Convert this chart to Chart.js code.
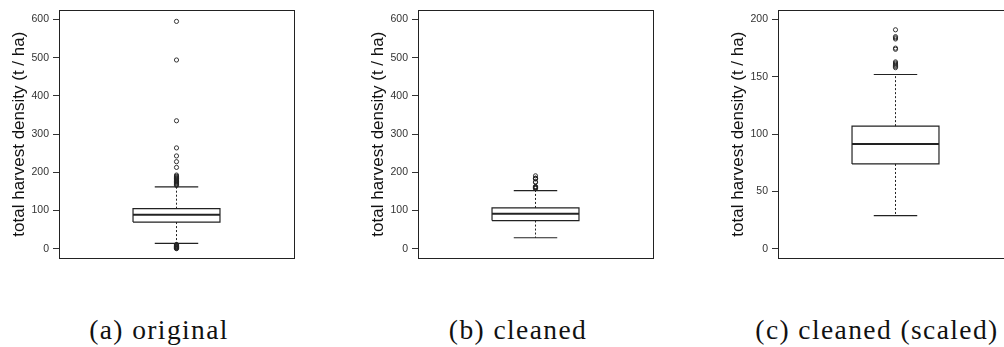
<!DOCTYPE html>
<html>
<head>
<meta charset="utf-8">
<script src="https://cdn.jsdelivr.net/npm/chart.js@4.4.0/dist/chart.umd.min.js"></script>
<style>
  html, body { margin: 0; padding: 0; background: #fff; }
  body { width: 1004px; height: 347px; overflow: hidden; position: relative; }
  .panel { position: absolute; top: 0; width: 300px; height: 280px; }
  .cap { position: absolute; top: 316px; font-family: "Liberation Serif", serif; font-size: 27.5px;
         line-height: 27px; letter-spacing: 1.4px; white-space: nowrap; color: #111; transform: translateX(-50%); }
</style>
</head>
<body>
<div class="panel" style="left:0px"><canvas id="c0" width="300" height="280"></canvas></div>
<div class="panel" style="left:359px"><canvas id="c1" width="300" height="280"></canvas></div>
<div class="panel" style="left:719px"><canvas id="c2" width="300" height="280"></canvas></div>
<div class="cap" id="cap0" style="left:159px"></div>
<div class="cap" id="cap1" style="left:518px"></div>
<div class="cap" id="cap2" style="left:877px"></div>
<script>
// ---- data ----
const captions = ['(a) original', '(b) cleaned', '(c) cleaned (scaled)'];
const yTitle = 'total harvest density (t / ha)';
// [lower whisker, Q1, median, Q3, upper whisker]
const originalStats = [14, 70, 89, 105, 162];
const originalOutliers = [595, 494, 335, 264, 243, 228, 213, 193, 190, 188, 186, 184, 182, 180, 178, 176, 174, 172, 170, 168, 166,
                          11.5, 10, 9, 7.5, 6, 5.5, 4, 3.5, 2, 1.5, 0.5];
const cleanedStats = [29, 74, 91.5, 107, 152];
const cleanedOutliers = [191, 185, 184, 183, 175, 174, 163, 162, 161, 160, 159, 158];
const ticksFull = [0, 100, 200, 300, 400, 500, 600];
const ticksScaled = [0, 50, 100, 150, 200];
const limitsFull = [0, 600];
const limitsScaled = [0, 200];

// ---- style constants ----
const BOX_HALF = 0.185, CAP_HALF = 0.0925, CENTER = 0.5;
const INK = '#222';

const frame = {
  id: 'frame',
  afterDraw(chart) {
    const a = chart.chartArea, ctx = chart.ctx;
    ctx.save();
    ctx.strokeStyle = INK; ctx.lineWidth = 1;
    ctx.strokeRect(Math.round(a.left) + 0.5, Math.round(a.top) + 0.5,
                   Math.round(a.right - a.left), Math.round(a.bottom - a.top));
    ctx.restore();
  }
};

function seg(points, width, dash) {
  return { data: points, showLine: true, borderColor: INK, borderWidth: width,
           borderDash: dash || [], pointRadius: 0, pointHoverRadius: 0, tension: 0, fill: false };
}

function makeChart(id, stats, outliers, ticks, limits) {
  const [lo, q1, med, q3, hi] = stats;
  const ext = (limits[1] - limits[0]) * 0.04;
  const L = CENTER - BOX_HALF, R = CENTER + BOX_HALF;
  const datasets = [
    seg([{x: L, y: med}, {x: R, y: med}], 2),
    seg([{x: L, y: q1}, {x: R, y: q1}, {x: R, y: q3}, {x: L, y: q3}, {x: L, y: q1}], 1.2),
    seg([{x: CENTER, y: q3}, {x: CENTER, y: hi}], 1, [2, 2]),
    seg([{x: CENTER, y: q1}, {x: CENTER, y: lo}], 1, [2, 2]),
    seg([{x: CENTER - CAP_HALF, y: hi}, {x: CENTER + CAP_HALF, y: hi}], 1.2),
    seg([{x: CENTER - CAP_HALF, y: lo}, {x: CENTER + CAP_HALF, y: lo}], 1.2),
    { data: outliers.map(v => ({x: CENTER, y: v})), showLine: false, pointStyle: 'circle',
      pointRadius: 2.1, borderWidth: 0.9, borderColor: INK, backgroundColor: 'rgba(0,0,0,0)' }
  ];
  return new Chart(document.getElementById(id), {
    type: 'scatter',
    data: { datasets },
    options: {
      responsive: false, animation: false, events: [],
      layout: { padding: { left: 0, right: 6, top: 10, bottom: 22 } },
      plugins: { legend: { display: false }, tooltip: { enabled: false } },
      scales: {
        x: { type: 'linear', display: false, min: 0, max: 1 },
        y: {
          type: 'linear', min: limits[0] - ext, max: limits[1] + ext,
          afterBuildTicks: s => { s.ticks = ticks.map(v => ({ value: v })); },
          afterFit: s => { s.width = 59; },
          border: { display: false },
          grid: { drawOnChartArea: false, drawTicks: true, tickLength: 6, tickColor: '#333', tickWidth: 1 },
          ticks: { padding: 4, color: '#333', font: { family: 'Liberation Sans, Arial, sans-serif', size: 10.5 },
                   callback: v => String(v) },
          title: { display: true, text: yTitle, color: '#111',
                   font: { family: 'Liberation Sans, Arial, sans-serif', size: 17 },
                   padding: { top: 9, bottom: 0 } }
        }
      }
    },
    plugins: [frame]
  });
}

makeChart('c0', originalStats, originalOutliers, ticksFull, limitsFull);
makeChart('c1', cleanedStats, cleanedOutliers, ticksFull, limitsFull);
makeChart('c2', cleanedStats, cleanedOutliers, ticksScaled, limitsScaled);
captions.forEach((t, i) => { document.getElementById('cap' + i).textContent = t; });
</script>
</body>
</html>
